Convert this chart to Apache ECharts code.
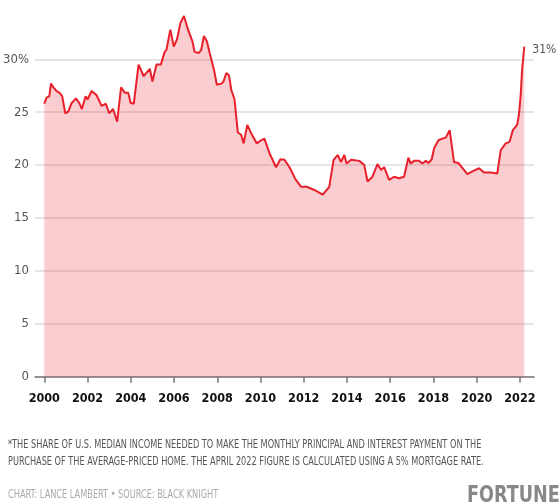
<!DOCTYPE html>
<html>
<head>
<meta charset="utf-8">
<script src="https://cdn.jsdelivr.net/npm/echarts@6/dist/echarts.min.js"></script>
<style>
  html, body { margin: 0; padding: 0; background: #fff; }
  #main { width: 560px; height: 504px; }
</style>
</head>
<body>
<div id="main"></div>
<script>
  // approximate dates (decimal year)
  let years = [
    2000.00, 2000.11, 2000.23, 2000.31, 2000.42, 2000.57, 2000.72, 2000.83, 2000.97,
    2001.11, 2001.26, 2001.46, 2001.62, 2001.74, 2001.91,
    2002.00, 2002.19, 2002.42, 2002.65, 2002.85,
    2003.00, 2003.18, 2003.37, 2003.55, 2003.72, 2003.88, 2003.99,
    2004.14, 2004.36, 2004.60, 2004.88,
    2005.00, 2005.19, 2005.39, 2005.57, 2005.65, 2005.83, 2005.99,
    2006.14, 2006.29, 2006.46, 2006.65, 2006.85, 2006.95,
    2007.15, 2007.26, 2007.38, 2007.52, 2007.65, 2007.85, 2007.98,
    2008.19, 2008.29, 2008.42, 2008.54, 2008.65, 2008.80, 2008.95,
    2009.11, 2009.22, 2009.39, 2009.57, 2009.83, 2009.99,
    2010.18, 2010.42, 2010.72, 2010.92,
    2011.11, 2011.34, 2011.62, 2011.88,
    2012.14, 2012.49, 2012.88,
    2013.18, 2013.38, 2013.57, 2013.72, 2013.88, 2013.98,
    2014.19, 2014.57, 2014.80, 2014.95,
    2015.18, 2015.41, 2015.57, 2015.72, 2015.95,
    2016.18, 2016.41, 2016.64, 2016.84, 2016.95,
    2017.10, 2017.33, 2017.49, 2017.65, 2017.77, 2017.92,
    2018.03, 2018.23, 2018.41, 2018.57, 2018.75, 2018.95,
    2019.15, 2019.41, 2019.57, 2019.80,
    2020.11, 2020.34, 2020.65, 2020.95,
    2021.11, 2021.34, 2021.52, 2021.67, 2021.87, 2021.95,
    2022.03, 2022.10, 2022.20
  ]
  let shares = [
    25.8, 26.4, 26.5, 27.7, 27.35, 27.0, 26.8, 26.5, 24.9,
    25.05, 25.85, 26.3, 25.85, 25.3, 26.5,
    26.2, 27.0, 26.6, 25.6, 25.8,
    24.9, 25.3, 24.1, 27.35, 26.85, 26.85, 25.9,
    25.8, 29.5, 28.4, 29.1,
    27.9, 29.5, 29.5, 30.7, 30.9, 32.8, 31.2,
    31.9, 33.4, 34.1, 32.8, 31.7, 30.7,
    30.6, 30.9, 32.2, 31.7, 30.6, 29.0, 27.6,
    27.7, 27.9, 28.7, 28.5, 27.1, 26.2, 23.1,
    22.85, 22.05, 23.8, 23.0, 22.05, 22.3,
    22.5, 21.1, 19.8, 20.55,
    20.5, 19.8, 18.65, 17.95,
    17.95, 17.65, 17.2,
    17.95, 20.5, 20.95, 20.3, 20.95, 20.15,
    20.5, 20.4, 20.0, 18.45,
    18.9, 20.1, 19.55, 19.8, 18.6,
    18.9, 18.75, 18.9, 20.7, 20.15,
    20.4, 20.4, 20.15, 20.4, 20.2, 20.55,
    21.6, 22.35, 22.5, 22.6, 23.3, 20.3,
    20.2, 19.55, 19.15, 19.4,
    19.7, 19.3, 19.3, 19.2,
    21.4, 22.05, 22.2, 23.3, 23.8, 24.7,
    26.5, 29.0, 31.2
  ]
  let xTicks = [2000, 2002, 2004, 2006, 2008, 2010, 2012, 2014, 2016, 2018, 2020, 2022]
  let yTicks = [0, 5, 10, 15, 20, 25, 30]

  let note1 = '*THE SHARE OF U.S. MEDIAN INCOME NEEDED TO MAKE THE MONTHLY PRINCIPAL AND INTEREST PAYMENT ON THE'
  let note2 = 'PURCHASE OF THE AVERAGE-PRICED HOME. THE APRIL 2022 FIGURE IS CALCULATED USING A 5% MORTGAGE RATE.'
  let credit = 'CHART: LANCE LAMBERT \u2022 SOURCE: BLACK KNIGHT'

  // condensed face of DejaVu Sans via the font shorthand
  let family = "'DejaVu Sans', sans-serif"

  let chart = echarts.init(document.getElementById('main'))
  chart.setOption({
    animation: false,
    backgroundColor: '#fff',
    grid: {
      left: 35,
      right: 26,
      top: 6.4,
      bottom: 127.3
    },
    xAxis: {
      type: 'value',
      min: 1999.57,
      max: 2022.65,
      splitLine: { show: false },
      axisLine: {
        onZero: false,
        lineStyle: { color: '#777', width: 1.5 }
      },
      axisTick: {
        customValues: xTicks,
        length: 6,
        lineStyle: { color: '#777', width: 1.5 }
      },
      axisLabel: {
        customValues: xTicks,
        margin: 16,
        color: '#111',
        fontSize: 12.5,
        fontWeight: 'bold condensed',
        fontFamily: family,
        formatter: function (v) { return String(v) }
      }
    },
    yAxis: {
      type: 'value',
      min: 0,
      max: 35,
      interval: 5,
      axisLine: { show: false },
      axisTick: { show: false },
      splitLine: {
        showMaxLine: false,
        lineStyle: { color: '#dcdcdc', width: 1.5 }
      },
      axisLabel: {
        margin: 6,
        color: '#555',
        fontSize: 13,
        fontWeight: 'normal condensed',
        fontFamily: family,
        formatter: function (v) {
          if (yTicks.indexOf(v) < 0) return ''
          return v === 30 ? '30%' : String(v)
        }
      }
    },
    series: [
      {
        type: 'line',
        data: years.map(function (y, i) { return [y, shares[i]] }),
        showSymbol: false,
        lineStyle: { color: '#e8202b', width: 2 },
        itemStyle: { color: '#e8202b' },
        areaStyle: { color: 'rgba(232, 32, 43, 0.32)' },
        endLabel: {
          show: true,
          formatter: '31%',
          color: '#555',
          fontSize: 12,
          fontWeight: 'normal condensed',
          fontFamily: family,
          distance: 8,
          offset: [0, 3]
        }
      }
    ],
    graphic: [
      {
        type: 'text',
        x: 8,
        y: 438,
        scaleX: 0.70,
        style: { text: note1, fill: '#555', font: 'condensed 13px ' + family }
      },
      {
        type: 'text',
        x: 8,
        y: 455,
        scaleX: 0.70,
        style: { text: note2, fill: '#555', font: 'condensed 13px ' + family }
      },
      {
        type: 'text',
        x: 8,
        y: 488,
        scaleX: 0.70,
        style: { text: credit, fill: '#aaa', font: 'condensed 13px ' + family }
      },
      {
        type: 'text',
        x: 467,
        y: 485,
        scaleX: 0.85,
        style: { text: 'FORTUNE', fill: '#888', font: 'condensed bold 23px ' + family }
      }
    ]
  })
</script>
</body>
</html>
